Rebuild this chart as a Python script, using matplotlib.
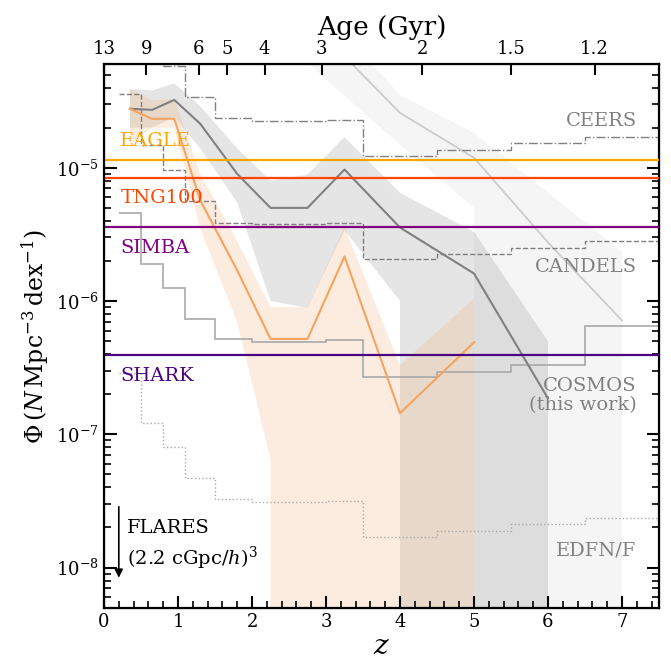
import matplotlib
matplotlib.use("Agg")
import matplotlib.pyplot as plt
import numpy as np

plt.rcParams["font.family"] = "DejaVu Serif"
plt.rcParams["mathtext.fontset"] = "dejavuserif"

# number density with uncertainty (orange: simulation, grey: this work, light: literature)
z_orange = [0.35, 0.65, 0.95, 1.3, 1.8, 2.25, 2.25, 2.75, 3.25, 4.0, 5.0]
phi_orange = [2.77e-5, 2.33e-5, 2.33e-5, 5.7e-6, 1.7e-6, 5.2e-7, 5.2e-7, 5.2e-7, 2.16e-6, 1.44e-7, 4.9e-7]
lo_orange = [1.5e-5, 2.0e-5, 2.0e-5, 3.5e-6, 6.9e-7, 6.5e-8, 1e-12, 1e-12, 1e-12, 1e-12, 1e-12]
hi_orange = [3.9e-5, 3.2e-5, 3.3e-5, 9.0e-6, 2.8e-6, 9.0e-7, 9.0e-7, 9.0e-7, 3.6e-6, 3.3e-7, 1.05e-6]

z_grey = [0.35, 0.65, 0.95, 1.3, 1.8, 2.25, 2.75, 3.25, 4.0, 4.0, 5.0, 6.0]
phi_grey = [2.77e-5, 2.72e-5, 3.23e-5, 2.14e-5, 9.0e-6, 5.0e-6, 5.0e-6, 9.7e-6, 3.56e-6, 3.56e-6, 1.61e-6, 1.86e-7]
lo_grey = [2.0e-5, 2.0e-5, 2.4e-5, 1.4e-5, 5.5e-6, 1.0e-6, 8.9e-7, 3.4e-6, 1.0e-6, 1e-12, 1e-12, 1e-12]
hi_grey = [3.9e-5, 3.8e-5, 4.3e-5, 2.9e-5, 1.4e-5, 8.0e-6, 8.9e-6, 1.7e-5, 6.5e-6, 6.5e-6, 3.3e-6, 5.0e-7]

z_light = [2.0, 3.0, 4.0, 5.0, 5.0, 6.0, 7.0]
phi_light = [4.0e-4, 9.5e-5, 2.58e-5, 1.19e-5, 1.19e-5, 2.75e-6, 7.15e-7]
lo_light = [1.5e-4, 4.6e-5, 1.49e-5, 5.0e-6, 1e-12, 1e-12, 1e-12]
hi_light = [6.0e-4, 1.5e-4, 3.5e-5, 1.83e-5, 1.83e-5, 6.5e-6, 2.34e-6]

# simulation volume limits
sims = ["EAGLE", "TNG100", "SIMBA", "SHARK"]
sim_phi = [1.15e-5, 8.4e-6, 3.58e-6, 3.97e-7]
sim_label_phi = [1.59e-5, 5.96e-6, 2.52e-6, 2.72e-7]
sim_colors = ["orange", "orangered", "purple", "indigo"]

# survey volume limits per redshift bin
z_edges = [0.2, 0.5, 0.8, 1.1, 1.5, 2.0, 3.0, 3.5, 4.5, 5.5, 6.5, 7.5]
ceers = [2.0e-4, 9.0e-5, 5.8e-5, 3.4e-5, 2.37e-5, 2.25e-5, 2.29e-5, 1.23e-5, 1.36e-5, 1.54e-5, 1.71e-5]
candels = [3.58e-5, 1.49e-5, 9.66e-6, 5.66e-6, 3.87e-6, 3.80e-6, 3.85e-6, 2.05e-6, 2.27e-6, 2.52e-6, 2.84e-6]
cosmos = [4.6e-6, 1.91e-6, 1.26e-6, 7.39e-7, 5.15e-7, 4.89e-7, 5.06e-7, 2.67e-7, 2.96e-7, 3.34e-7, 6.55e-7]
edfn = [2.9e-7, 1.21e-7, 7.99e-8, 4.68e-8, 3.26e-8, 3.10e-8, 3.15e-8, 1.69e-8, 1.88e-8, 2.12e-8, 2.35e-8]
surveys = ["CEERS", "CANDELS", "COSMOS\n(this work)", "EDFN/F"]
survey_label_phi = [2.25e-5, 1.81e-6, 1.95e-7, 1.35e-8]

age_labels = ["13", "9", "6", "5", "4", "3", "2", "1.5", "1.2"]
age_z = [0.0, 0.57, 1.28, 1.66, 2.17, 2.94, 4.30, 5.50, 6.63]

fig = plt.figure(figsize=(6.71, 6.59), dpi=100)
ax = fig.add_axes([0.155, 0.0778, 0.8271, 0.825])

ax.fill_between(z_light, lo_light, hi_light, color="lightgrey", alpha=0.22, lw=0, zorder=1)
ax.fill_between(z_grey, lo_grey, hi_grey, color="grey", alpha=0.2, lw=0, zorder=1)
ax.fill_between(z_orange, lo_orange, hi_orange, color="sandybrown", alpha=0.2, lw=0, zorder=1)

ax.plot(z_light, phi_light, color="#cccccc", lw=1.3, zorder=2)
ax.plot(z_grey, phi_grey, color="grey", lw=1.5, zorder=3)
ax.plot(z_orange, phi_orange, color="sandybrown", lw=1.5, zorder=3)

for name, phi, lphi, col in zip(sims, sim_phi, sim_label_phi, sim_colors):
    ax.axhline(phi, color=col, lw=1.6, zorder=4)
    ax.text(0.22, lphi, name, color=col, fontsize=14, ha="left", va="center")

ax.stairs(ceers, z_edges, baseline=None, color="grey", lw=1, ls="-.", zorder=2)
ax.stairs(candels, z_edges, baseline=None, color="grey", lw=1, ls="--", zorder=2)
ax.stairs(cosmos, z_edges, baseline=None, color="darkgrey", lw=1.2, ls="-", zorder=2)
ax.stairs(edfn, z_edges, baseline=None, color="darkgrey", lw=1, ls=":", zorder=2)

for name, lphi in zip(surveys, survey_label_phi):
    ax.text(7.2, lphi, name, color="grey", fontsize=14, ha="right", va="center",
            multialignment="right", linespacing=1.05)

# FLARES sits below the plotted range
ax.annotate("", xy=(0.2, 8.0e-9), xytext=(0.2, 3.0e-8),
            arrowprops=dict(arrowstyle="-|>", color="black", lw=1.2, mutation_scale=12))
ax.text(0.31, 1.98e-8, "FLARES", fontsize=14, ha="left", va="center")
ax.text(0.31, 1.17e-8, r"(2.2 cGpc/$h$)$^3$", fontsize=14, ha="left", va="center")

ax.set_yscale("log")
ax.set_xlim(0, 7.5)
ax.set_ylim(5.0e-9, 6.0e-5)
ax.set_xticks(np.arange(0, 8))
ax.xaxis.set_minor_locator(matplotlib.ticker.MultipleLocator(0.2))
ax.tick_params(which="both", direction="in", right=True, labelsize=13)
ax.tick_params(axis="x", which="both", top=False)
ax.tick_params(which="major", length=9, width=1.5)
ax.tick_params(which="minor", length=5, width=1.2)
for s in ax.spines.values():
    s.set_linewidth(1.6)
ax.set_xlabel(r"$z$", fontsize=20, labelpad=2)
ax.set_ylabel(r"$\Phi\,(N\,\mathrm{Mpc^{-3}\,dex^{-1}})$", fontsize=17)

top = ax.twiny()
top.set_xlim(ax.get_xlim())
top.set_xticks(age_z)
top.set_xticklabels(age_labels)
top.tick_params(direction="in", length=8, width=1.5, labelsize=13, pad=4)
top.xaxis.set_minor_locator(matplotlib.ticker.NullLocator())
top.set_xlabel("Age (Gyr)", fontsize=19, labelpad=4)

fig.savefig("out.png", dpi=100)
